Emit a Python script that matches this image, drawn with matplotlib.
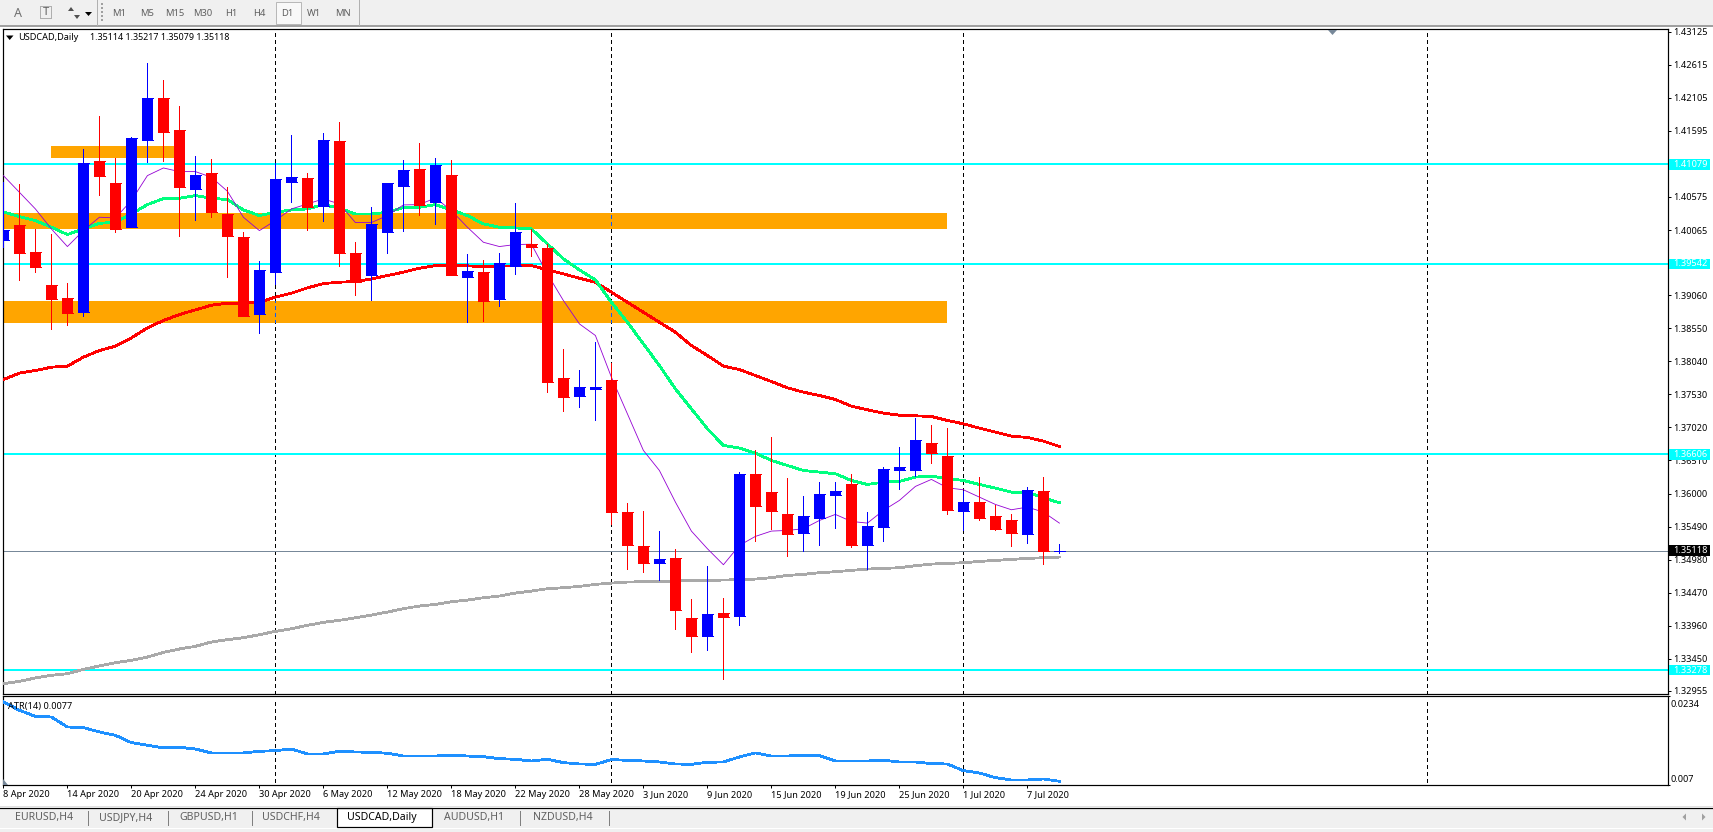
import numpy as np
import matplotlib
matplotlib.use("Agg")
import matplotlib.pyplot as plt
from matplotlib.patches import Rectangle, Polygon

plt.rcParams['font.family'] = ['Noto Sans', 'DejaVu Sans']

# ---------- data ----------
opens = [1.39918,1.40149,1.39733,1.39224,1.39023,1.38808,1.41136,1.40796,1.40118,1.41459,
         1.42107,1.41613,1.40704,1.40951,1.40318,1.39964,1.38777,1.39424,1.40812,1.40873,
         1.40442,1.41444,1.39717,1.39378,1.40041,1.40750,1.41012,1.40503,1.40920,1.39347,
         1.39424,1.39008,1.39517,1.39856,1.39794,1.37775,1.37497,1.37605,1.37759,1.35709,
         1.35185,1.34922,1.35000,1.34075,1.33797,1.34152,1.34105,1.36295,1.36017,1.35678,
         1.35385,1.35616,1.35971,1.36140,1.35200,1.35477,1.36356,1.36356,1.36773,1.36572,
         1.35724,1.35863,1.35647,1.35585,1.35370,1.36033,1.35114]
highs = [1.40812,1.40781,1.40087,1.40010,1.39255,1.41321,1.41829,1.41182,1.41506,1.42646,
         1.42384,1.41983,1.41213,1.41166,1.40735,1.40041,1.39594,1.41105,1.41536,1.40951,
         1.41567,1.41737,1.39887,1.40426,1.40796,1.41151,1.41413,1.41182,1.41151,1.39702,
         1.39609,1.39717,1.40488,1.40087,1.39856,1.38222,1.37898,1.38330,1.38006,1.35847,
         1.35724,1.35416,1.35138,1.34367,1.34876,1.34383,1.36325,1.36665,1.36865,1.36233,
         1.35955,1.36171,1.36171,1.36295,1.35709,1.36403,1.36711,1.37158,1.37050,1.37004,
         1.36033,1.36248,1.35817,1.35678,1.36094,1.36248,1.35217]
lows = [1.39810,1.39301,1.39424,1.38545,1.38607,1.38746,1.40611,1.40041,1.40110,1.41120,
        1.41136,1.39979,1.40226,1.40272,1.39347,1.38746,1.38484,1.39234,1.40503,1.40072,
        1.40211,1.39517,1.39070,1.38993,1.39717,1.40056,1.40303,1.40164,1.39378,1.38653,
        1.38669,1.38900,1.39393,1.39671,1.37559,1.37266,1.37328,1.37127,1.35534,1.34830,
        1.34784,1.34660,1.33905,1.33550,1.33581,1.33134,1.33967,1.35262,1.35447,1.35030,
        1.35107,1.35200,1.35462,1.35169,1.34830,1.35262,1.36063,1.36264,1.36464,1.35678,
        1.35431,1.35585,1.35431,1.35185,1.35231,1.34907,1.35079]
closes = [1.40072,1.39717,1.39501,1.39008,1.38792,1.41105,1.40904,1.40087,1.41490,1.42107,
          1.41583,1.40735,1.40920,1.40349,1.39979,1.38746,1.39455,1.40858,1.40889,1.40426,
          1.41459,1.39717,1.39270,1.40164,1.40796,1.40997,1.40457,1.41074,1.39378,1.39440,
          1.38977,1.39563,1.40041,1.39810,1.37713,1.37482,1.37636,1.37651,1.35709,1.35200,
          1.34922,1.34984,1.34198,1.33797,1.34136,1.34090,1.36295,1.35801,1.35724,1.35370,
          1.35647,1.35986,1.36033,1.35200,1.35493,1.36372,1.36403,1.36819,1.36618,1.35740,
          1.35863,1.35616,1.35447,1.35385,1.36048,1.35107,1.35118]
ma_fast = [1.40904,1.40647,1.40390,1.40082,1.39810,1.40056,1.40262,1.40252,1.40519,1.40904,
           1.41022,1.40966,1.40966,1.40879,1.40663,1.40262,1.40056,1.40211,1.40390,1.40467,
           1.40545,1.40467,1.40180,1.40180,1.40288,1.40452,1.40457,1.40560,1.40365,1.40108,
           1.39876,1.39810,1.39841,1.39846,1.39388,1.38977,1.38617,1.38438,1.37795,1.37230,
           1.36665,1.36356,1.35868,1.35421,1.35149,1.34902,1.35200,1.35339,1.35421,1.35431,
           1.35457,1.35585,1.35678,1.35570,1.35544,1.35740,1.35894,1.36110,1.36218,1.36089,
           1.36058,1.35945,1.35832,1.35750,1.35791,1.35714,1.35544]
ma_mid = [1.40344,1.40272,1.40211,1.40108,1.39995,1.40082,1.40169,1.40185,1.40313,1.40457,
          1.40550,1.40555,1.40596,1.40555,1.40534,1.40375,1.40288,1.40339,1.40375,1.40390,
          1.40457,1.40401,1.40313,1.40313,1.40339,1.40411,1.40416,1.40457,1.40375,1.40288,
          1.40159,1.40108,1.40097,1.40082,1.39851,1.39620,1.39450,1.39296,1.38951,1.38643,
          1.38309,1.37975,1.37615,1.37307,1.36999,1.36742,1.36701,1.36624,1.36510,1.36433,
          1.36356,1.36331,1.36305,1.36202,1.36140,1.36176,1.36187,1.36254,1.36269,1.36228,
          1.36202,1.36140,1.36084,1.36022,1.36022,1.35935,1.35858]
ma_slow = [1.37759,1.37857,1.37898,1.37949,1.37965,1.38104,1.38206,1.38273,1.38402,1.38556,
           1.38669,1.38761,1.38833,1.38905,1.38936,1.38936,1.38951,1.39029,1.39090,1.39172,
           1.39239,1.39260,1.39270,1.39311,1.39363,1.39414,1.39476,1.39517,1.39517,1.39512,
           1.39501,1.39507,1.39512,1.39517,1.39450,1.39388,1.39321,1.39260,1.39106,1.38951,
           1.38797,1.38643,1.38489,1.38283,1.38129,1.37965,1.37913,1.37821,1.37728,1.37631,
           1.37564,1.37513,1.37451,1.37348,1.37292,1.37240,1.37209,1.37199,1.37189,1.37127,
           1.37076,1.37009,1.36947,1.36886,1.36865,1.36808,1.36726]
ma_long = [1.33067,1.33103,1.33155,1.33196,1.33221,1.33288,1.33340,1.33391,1.33427,1.33478,
           1.33550,1.33602,1.33643,1.33710,1.33746,1.33776,1.33823,1.33874,1.33915,1.33967,
           1.34013,1.34044,1.34085,1.34126,1.34172,1.34224,1.34265,1.34290,1.34331,1.34357,
           1.34393,1.34419,1.34465,1.34496,1.34532,1.34547,1.34568,1.34599,1.34619,1.34635,
           1.34640,1.34645,1.34650,1.34660,1.34660,1.34666,1.34671,1.34681,1.34702,1.34737,
           1.34753,1.34779,1.34794,1.34815,1.34835,1.34845,1.34856,1.34887,1.34912,1.34922,
           1.34933,1.34953,1.34969,1.34984,1.35000,1.35010,1.35020]
atr = [0.02236,0.02082,0.01971,0.01959,0.01775,0.01763,0.01683,0.01621,0.01486,0.01437,
       0.01388,0.01400,0.01369,0.01296,0.01296,0.01296,0.01326,0.01339,0.01369,0.01277,
       0.01277,0.01326,0.01314,0.01308,0.01290,0.01240,0.01240,0.01240,0.01253,0.01240,
       0.01228,0.01191,0.01179,0.01148,0.01179,0.01118,0.01093,0.01087,0.01173,0.01161,
       0.01148,0.01130,0.01093,0.01087,0.01124,0.01130,0.01222,0.01296,0.01240,0.01240,
       0.01253,0.01247,0.01148,0.01148,0.01148,0.01161,0.01130,0.01130,0.01099,0.01093,
       0.00970,0.00927,0.00841,0.00798,0.00798,0.00817,0.00774]

date_labels = ['8 Apr 2020','14 Apr 2020','20 Apr 2020','24 Apr 2020','30 Apr 2020','6 May 2020',
               '12 May 2020','18 May 2020','22 May 2020','28 May 2020','3 Jun 2020','9 Jun 2020',
               '15 Jun 2020','19 Jun 2020','25 Jun 2020','1 Jul 2020','7 Jul 2020']
date_bars = list(range(0, 68, 4))
month_bars = [17, 38, 60, 89]

price_ticks = [1.43125,1.42615,1.42105,1.41595,1.40575,1.40065,1.39060,1.38550,1.38040,1.37530,
               1.37020,1.36510,1.36000,1.35490,1.34980,1.34470,1.33960,1.33450,1.32955]
levels = [1.41079, 1.39542, 1.36606, 1.33278]
bid = 1.35118
# zones: first bar, last bar, top price, bottom price
zones = [(3, 11, 1.41367, 1.41182), (-1, 59, 1.40334, 1.40087), (-1, 59, 1.38977, 1.38638)]

tabs = ['EURUSD,H4','USDJPY,H4','GBPUSD,H1','USDCHF,H4','USDCAD,Daily','AUDUSD,H1','NZDUSD,H4']
periods = ['M1','M5','M15','M30','H1','H4','D1','W1','MN']

# ---------- layout ----------
W, H = 1713, 832
PX = 0.72
L, R, T1, B1, T2, B2 = 2.5, 1667.7, 29.3, 694.0, 696.3, 785.3
FS = 6.6
DASH = (0, (3, 3))
fig = plt.figure(figsize=(W/100, H/100), dpi=100, facecolor='white')
def box(t, b):
    return [L/W, 1-b/H, (R-L)/W, (b-t)/H]
ax = fig.add_axes(box(T1, B1))
ax2 = fig.add_axes(box(T2, B2))
xlim = ((L-3.4)/16, (R-3.4)/16)
for a in (ax, ax2):
    a.set_xlim(*xlim)
    for s in a.spines.values():
        s.set_linewidth(PX*1.2)
ax.set_ylim(1.32908, 1.43161)
ax2.set_ylim(0.007, 0.0234)

x = np.arange(len(opens))
o, h, l, c = map(np.array, (opens, highs, lows, closes))
up = c >= o
cols = np.where(up, '#0000FF', '#FF0000')

# zones
zone_patches = []
for a0, a1, top, bot in zones:
    p = Rectangle((a0, bot), a1-a0, top-bot, facecolor='#FFA500', edgecolor='none', zorder=1)
    ax.add_patch(p)
    zone_patches.append(p)
# period separators
for m in month_bars:
    ax.axvline(m, color='black', lw=PX, ls=DASH, zorder=1.5, antialiased=False)
    ax2.axvline(m, ymax=0.96, ymin=0.04, color='black', lw=PX, ls=DASH, zorder=1.5, antialiased=False)
    for p in zone_patches[1:]:
        if m <= 59:
            ln = ax.axvline(m, color='#0A5CFF', lw=PX, ls=DASH, zorder=1.6, antialiased=False)
            ln.set_clip_path(p)
# levels
for v in levels:
    ax.axhline(v, color='#00FFFF', lw=1.44, zorder=2, antialiased=False)
ax.axhline(bid, color='#778899', lw=PX, zorder=2, antialiased=False)
# moving averages
ax.plot(x, ma_long, color='#A9A9A9', lw=1.3, zorder=3, antialiased=False)
ax.plot(x, ma_slow, color='#FF0000', lw=1.3, zorder=3, antialiased=False)
ax.plot(x, ma_mid, color='#00FF7F', lw=1.3, zorder=3, antialiased=False)
ax.plot(x, ma_fast, color='#9400D3', lw=0.6, zorder=3, antialiased=True)
# candles
ax.vlines(x, l, h, colors=cols, lw=PX, zorder=4, antialiased=False)
ax.bar(x, np.abs(c-o), bottom=np.minimum(o, c), width=11/16, color=cols, linewidth=0, zorder=5, antialiased=False)
ax.hlines(o, x-5.5/16, x+5.5/16, colors=cols, lw=PX, zorder=5, antialiased=False)
ax.hlines(c, x-5.5/16, x+5.5/16, colors=cols, lw=PX, zorder=5, antialiased=False)

# ATR
ax2.plot(x, atr, color='#1E90FF', lw=1.3, zorder=3, antialiased=False)

# axes ticks
ax.set_xticks([])
ax.yaxis.tick_right()
ax.set_yticks(price_ticks, [f'{p:.5f}' for p in price_ticks])
ax.tick_params(axis='y', length=3*PX, width=PX, pad=2*PX, labelsize=FS)
ax2.yaxis.tick_right()
ax2.set_yticks([0.007, 0.0234], ['', ''])
ax2.tick_params(axis='y', length=2*PX, width=PX)
ax2.set_xticks(date_bars, date_labels, ha='left')
ax2.tick_params(axis='x', length=3*PX, width=PX, pad=2*PX, labelsize=FS)

# ATR scale labels
ax2.annotate('0.0234', xy=(1, 0.0234), xycoords=ax2.get_yaxis_transform(), xytext=(3*PX, -8*PX),
             textcoords='offset points', va='center', fontsize=FS, color='black')
ax2.annotate('0.007', xy=(1, 0.007), xycoords=ax2.get_yaxis_transform(), xytext=(3*PX, 6*PX),
             textcoords='offset points', va='center', fontsize=FS, color='black')

# price tags
def tag(price, fc, zo=6):
    tr = ax.get_yaxis_transform()
    ax.add_patch(Rectangle((1+1.5/(R-L), price-5.4*0.00015417), 41/(R-L), 10.8*0.00015417, transform=tr,
                           facecolor=fc, edgecolor='none', clip_on=False, zorder=zo))
    ax.annotate(f'{price:.5f}', xy=(1, price), xycoords=tr, xytext=(5.5*PX, 0), textcoords='offset points',
                va='center', fontsize=FS, color='white', zorder=zo+1, annotation_clip=False)
for v in levels:
    tag(v, '#00FFFF')
tag(bid, '#000000')

# ---------- window chrome, in pixels ----------
ov = fig.add_axes([0, 0, 1, 1], zorder=10)
ov.set_xlim(0, W); ov.set_ylim(H, 0); ov.axis('off'); ov.patch.set_alpha(0)
GR = '#F0F0F0'; TXT = '#606060'
ov.add_patch(Rectangle((0, 0), W, 25, facecolor=GR, edgecolor='none'))
ov.add_patch(Rectangle((0, 25), W, 2, facecolor='#A0A0A0', edgecolor='none'))
for sx in (97, 359):
    ov.plot([sx, sx], [0, 25], color='#B0B0B0', lw=PX)
ov.plot([102, 102], [3, 22], color='#A0A0A0', lw=2*PX, ls=(0, (1, 1)))
ov.text(18, 13.5, 'A', ha='center', va='center', fontsize=9, color='#707070', fontweight='bold')
ov.add_patch(Rectangle((40, 6), 11, 12, facecolor='none', edgecolor='#707070', lw=PX, ls=(0, (1, 1))))
ov.text(45.5, 12.5, 'T', ha='center', va='center', fontsize=8, color='#606060', fontweight='bold')
ov.add_patch(Polygon([(68, 11), (71, 7), (74, 11)], facecolor='#505050', edgecolor='none'))
ov.add_patch(Polygon([(74, 15), (77, 19), (80, 15)], facecolor='#505050', edgecolor='none'))
ov.add_patch(Polygon([(85, 12), (92, 12), (88.5, 16)], facecolor='black', edgecolor='none'))
ov.add_patch(Rectangle((275.5, 1.5), 25, 22, facecolor='#F8F8F8', edgecolor='#B8B8B8', lw=PX))
for lab, cx in zip(periods, [119, 147, 175, 203, 231, 259, 287, 314, 343]):
    ov.text(cx, 13.7, lab, ha='center', va='center', fontsize=FS+0.2, color=TXT)

# header and markers
ov.add_patch(Polygon([(6, 35.5), (13.5, 35.5), (9.7, 40)], facecolor='black', edgecolor='none'))
ov.text(18, 37.5, 'USDCAD,Daily', va='center', fontsize=FS, color='black')
ov.text(90, 37.5, '1.35114 1.35217 1.35079 1.35118', va='center', fontsize=FS-0.15, color='black')
ov.text(8, 707, 'ATR(14) 0.0077', va='center', fontsize=FS, color='black')
ov.add_patch(Polygon([(1328, 30), (1337, 30), (1332.5, 35)], facecolor='#778899', edgecolor='none'))
ov.add_patch(Polygon([(3, 779), (3, 785), (8, 785)], facecolor='#778899', edgecolor='none'))

# tab strip
ov.plot([0, W], [806, 806], color='#E0E0E0', lw=PX)
ov.add_patch(Rectangle((0, 808), W, 20, facecolor=GR, edgecolor='none'))
ov.add_patch(Rectangle((0, 829), W, 3, facecolor=GR, edgecolor='none'))
ov.plot([0, W], [808, 808], color='black', lw=PX*1.2)
ov.add_patch(Rectangle((337, 808), 95, 18.5, facecolor='white', edgecolor='black', lw=PX*1.2))
for lab, sx in zip(tabs, [15, 99.5, 179, 262, 346.5, 444, 532.6]):
    ov.text(sx, 817.5, lab, va='center', fontsize=7.6, color='black' if lab == 'USDCAD,Daily' else TXT)
for sx in (88, 168, 252, 520, 608.7):
    ov.plot([sx, sx], [811, 825], color='#808080', lw=PX)
ov.add_patch(Polygon([(1686, 813.5), (1686, 820.5), (1682.5, 817)], facecolor='#A0A0A0', edgecolor='none'))
ov.add_patch(Polygon([(1702, 813.5), (1702, 820.5), (1705.5, 817)], facecolor='#A0A0A0', edgecolor='none'))

fig.savefig('out.png', dpi=100, facecolor='white')
